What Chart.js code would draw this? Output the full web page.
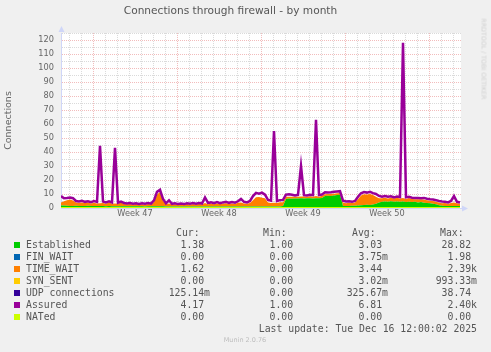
<!DOCTYPE html>
<html>
<head>
<meta charset="utf-8">
<title>Connections through firewall - by month</title>
<script src="https://cdn.jsdelivr.net/npm/chart.js@4.4.1/dist/chart.umd.min.js"></script>
<style>
  html, body { margin: 0; padding: 0; background: #f0f0f0; }
  #wrap { position: relative; width: 491px; height: 352px; overflow: hidden; }
  canvas { position: absolute; left: 0; top: 0; }
  .t { position: absolute; white-space: pre; font-family: 'DejaVu Sans Mono', monospace; font-size: 9.8px; line-height: 12px; color: #555; }
  .sq { position: absolute; width: 6px; height: 6px; }
  #rrd { position: absolute; left: 483.5px; top: 59px; transform: translate(-50%, -50%) rotate(90deg); white-space: nowrap;
         font-family: 'DejaVu Sans', sans-serif; font-size: 6.3px; color: #cfcfcf; }
  #munin { position: absolute; left: 245px; top: 340px; transform: translate(-50%, -50%); white-space: nowrap;
           font-family: 'DejaVu Sans', sans-serif; font-size: 6.5px; color: #bdbdbd; }
</style>
</head>
<body>
<div id="wrap">
  <canvas id="chart" width="491" height="352"></canvas>
  <div id="legend"></div>
  <div id="rrd">RRDTOOL / TOBI OETIKER</div>
  <div id="munin">Munin 2.0.76</div>
</div>
<script>
// samples every 6 hours, starting at the left edge of the month graph
const established = [
  1.8, 1.8, 1.6, 1.5, 1.5, 1.6, 1.5, 1.4, 1.5, 1.6,
  1.4, 1.5, 1.4, 1.4, 1.4, 1.3, 1.4, 1.3, 1.3, 1.3,
  1.3, 1.2, 1.3, 1.2, 1.2, 1.3, 1.2, 1.2, 1.1, 1.2,
  1.2, 1.2, 1.2, 1.2, 1.2, 1.1, 1.1, 1.1, 1.1, 1.0,
  1.0, 1.0, 1.1, 1.0, 1.0, 1.0, 1.1, 1.0, 1.0, 1.0,
  1.1, 1.0, 1.0, 1.1, 1.0, 1.0, 1.1, 1.0, 1.0, 1.1,
  1.0, 1.0, 1.1, 1.0, 1.0, 1.1, 1.1, 1.1, 1.0, 1.0,
  1.0, 1.0, 1.0, 1.1, 1.5, 6.5, 6.8, 6.6, 6.8, 6.7,
  6.9, 6.7, 6.9, 7.0, 6.8, 7.0, 6.9, 7.2, 8.5, 8.8,
  8.6, 9.0, 9.2, 9.5, 1.5, 1.4, 1.5, 1.6, 1.6, 1.8,
  2.0, 2.2, 2.4, 2.2, 2.5, 3.0, 4.0, 4.5, 4.6, 4.4,
  4.8, 4.5, 4.7, 4.4, 4.6, 4.3, 4.5, 4.2, 4.4, 4.0,
  4.2, 3.8, 3.6, 3.4, 3.0, 2.6, 2.0, 1.6, 1.5, 1.4,
  1.4, 1.5, 1.4, 1.4
];
const timeWait = [
  2.2, 3.0, 4.0, 4.5, 3.8, 2.4, 2.2, 2.6, 2.0, 2.4,
  1.8, 2.2, 1.9, 2.0, 2.2, 1.8, 2.6, 1.7, 2.0, 1.8,
  2.6, 1.6, 1.4, 1.7, 1.3, 1.6, 1.2, 1.5, 1.3, 1.6,
  1.4, 3.0, 8.5, 10.3, 4.0, 1.5, 2.2, 1.4, 1.6, 1.3,
  1.6, 1.3, 1.7, 1.4, 1.8, 1.5, 1.9, 1.5, 2.5, 1.6,
  2.0, 1.6, 2.2, 1.7, 2.0, 2.4, 1.8, 2.3, 1.9, 2.6,
  3.0, 2.2, 2.0, 2.6, 4.5, 6.5, 6.8, 6.2, 6.0, 3.0,
  2.6, 2.8, 2.5, 3.0, 2.6, 1.5, 1.3, 1.5, 1.2, 1.4,
  1.3, 1.5, 1.2, 1.4, 1.3, 1.5, 1.2, 1.6, 1.4, 1.2,
  1.5, 1.2, 1.4, 1.3, 2.4, 2.0, 2.2, 1.9, 2.4, 4.5,
  7.0, 7.6, 7.2, 7.8, 6.8, 5.0, 3.0, 2.5, 2.8, 2.4,
  2.6, 2.2, 2.6, 2.3, 2.5, 2.2, 2.6, 2.2, 1.8, 2.3,
  2.0, 2.2, 2.0, 1.8, 2.0, 1.8, 2.0, 1.8, 2.0, 1.6,
  2.2, 2.4, 2.0, 1.6
];
const assured = [
  8.5, 7.0, 7.2, 7.5, 7.0, 5.0, 4.6, 5.2, 4.4, 4.8,
  4.2, 4.9, 4.3, 44.5, 4.6, 4.0, 4.8, 4.0, 43.0, 3.8,
  4.6, 3.6, 3.2, 3.6, 3.0, 3.4, 2.9, 3.3, 3.0, 3.5,
  3.1, 5.5, 11.5, 13.0, 6.5, 3.3, 5.5, 3.0, 3.4, 2.8,
  3.2, 2.8, 3.4, 3.0, 3.5, 3.1, 3.6, 3.2, 7.5, 3.6,
  4.0, 3.4, 4.2, 3.5, 4.0, 4.4, 3.7, 4.3, 3.8, 4.8,
  6.5, 4.4, 4.0, 5.0, 8.5, 10.8, 10.2, 11.0, 9.5, 5.8,
  5.2, 55.0, 5.0, 5.6, 5.8, 9.6, 9.8, 9.4, 9.0, 9.4,
  30.0, 9.2, 9.0, 9.4, 9.2, 63.0, 9.2, 9.6, 11.2, 11.0,
  11.2, 11.6, 11.8, 12.0, 5.2, 4.6, 4.8, 4.4, 5.0, 8.0,
  10.5, 11.4, 11.0, 11.5, 10.6, 10.0, 8.6, 8.0, 8.6, 8.0,
  8.4, 7.6, 8.2, 7.8, 118.0, 7.6, 8.0, 7.4, 7.2, 7.2,
  7.0, 7.2, 6.6, 6.2, 6.0, 5.6, 5.0, 4.6, 4.4, 4.0,
  5.0, 8.5, 4.4, 4.0
];
const natedHours = [0, 798];
const nated = [0, 0];

// hours from the left edge: Monday 00:00 of each week, and the week numbers
const weekStarts = [64, 232, 400, 568, 736];
const weekLabels = ['Week 47', 'Week 48', 'Week 49', 'Week 50'];

// legend table
const seriesNames = ['Established', 'FIN_WAIT', 'TIME_WAIT', 'SYN_SENT', 'UDP connections', 'Assured', 'NATed'];
const seriesColors = ['#00CC00', '#0066B3', '#FF8000', '#FFCC00', '#330099', '#990099', '#CCFF00'];
const curValues = ['1.38', '0.00', '1.62', '0.00', '125.14m', '4.17', '0.00'];
const minValues = ['1.00', '0.00', '0.00', '0.00', '0.00', '1.00', '0.00'];
const avgValues = ['3.03', '3.75m', '3.44', '3.02m', '325.67m', '6.81', '0.00'];
const maxValues = ['28.82', '1.98', '2.39k', '993.33m', '38.74', '2.40k', '0.00'];

const hours = established.map((_, i) => i * 6);
const toPoints = (xs, ys) => ys.map((v, i) => ({ x: xs[i], y: v }));

const MAJOR = 'rgba(222, 79, 79, 0.38)';
const MINOR = 'rgba(150, 150, 150, 0.35)';
const NONE = 'rgba(0, 0, 0, 0)';
const AXIS = '#CFD6F8';
const FONT = '#666666';

const munin = {
    id: 'munin',
    beforeDraw(chart) {
        const { ctx, chartArea: a } = chart;
        ctx.save();
        ctx.fillStyle = '#ffffff';
        ctx.fillRect(a.left, a.top, a.right - a.left, a.bottom - a.top);
        ctx.restore();
    },
    afterDraw(chart) {
        const { ctx, chartArea: a } = chart;
        ctx.save();
        ctx.fillStyle = AXIS;
        ctx.beginPath();
        ctx.moveTo(a.left + 0.5, a.top - 7);
        ctx.lineTo(a.left + 3.5, a.top - 1);
        ctx.lineTo(a.left - 2.5, a.top - 1);
        ctx.fill();
        ctx.beginPath();
        ctx.moveTo(a.right + 7, a.bottom + 0.5);
        ctx.lineTo(a.right + 1, a.bottom + 3.5);
        ctx.lineTo(a.right + 1, a.bottom - 2.5);
        ctx.fill();
        ctx.restore();
    }
};

new Chart(document.getElementById('chart'), {
    type: 'line',
    data: {
        datasets: [
            {
                label: 'NATed', stack: 'nated',
                data: toPoints(natedHours, nated),
                borderColor: '#CCFF00', borderWidth: 2, fill: false
            },
            {
                label: 'Assured', stack: 'assured',
                data: toPoints(hours, assured),
                borderColor: '#990099', borderWidth: 2.5, fill: false
            },
            {
                label: 'Established', stack: 'conn',
                data: toPoints(hours, established),
                backgroundColor: '#00CC00', borderColor: NONE, borderWidth: 0, fill: 'origin'
            },
            {
                label: 'TIME_WAIT', stack: 'conn',
                data: toPoints(hours, timeWait),
                backgroundColor: '#FF8000', borderColor: NONE, borderWidth: 0, fill: '-1'
            }
        ]
    },
    options: {
        responsive: false,
        animation: false,
        layout: { padding: { left: 0, right: 30, top: 0, bottom: 0 } },
        elements: { point: { radius: 0 }, line: { tension: 0 } },
        plugins: {
            legend: { display: false },
            tooltip: { enabled: false },
            title: {
                display: true,
                text: 'Connections through firewall - by month',
                color: '#555555',
                font: { family: 'DejaVu Sans', size: 10.6, weight: 'normal' },
                padding: { top: 4.6, bottom: 15.7 }
            }
        },
        scales: {
            x: {
                type: 'linear',
                min: 0,
                max: 800,
                afterBuildTicks: scale => {
                    const ticks = [];
                    for (let h = 16; h < 800; h += 12) ticks.push({ value: h });
                    scale.ticks = ticks;
                },
                afterFit: scale => { scale.height = 144; },
                ticks: {
                    autoSkip: false,
                    maxRotation: 0,
                    padding: 1,
                    color: FONT,
                    font: { family: 'DejaVu Sans', size: 8.2 },
                    callback: value => {
                        const k = weekStarts.indexOf(value - 84);
                        return k >= 0 && k < weekLabels.length ? weekLabels[k] : '';
                    }
                },
                grid: {
                    drawTicks: false,
                    lineWidth: 1,
                    color: c => {
                        const v = c.tick.value;
                        if ((v - 16) % 24 !== 0) return NONE;
                        return weekStarts.includes(v) ? MAJOR : MINOR;
                    }
                },
                border: { color: AXIS, width: 1, dash: [1, 1] }
            },
            y: {
                stacked: true,
                min: 0,
                max: 125,
                afterFit: scale => { scale.width = 61; },
                ticks: {
                    stepSize: 5,
                    autoSkip: false,
                    padding: 7,
                    color: FONT,
                    font: { family: 'DejaVu Sans', size: 8.2 },
                    callback: value => (value % 10 === 0 && value <= 120) ? String(value) : ''
                },
                grid: {
                    drawTicks: false,
                    lineWidth: 1,
                    color: c => {
                        const v = c.tick.value;
                        if (v === 0) return NONE;
                        return (v % 10 === 0 && v <= 120) ? MAJOR : MINOR;
                    }
                },
                border: { color: AXIS, width: 1, dash: [1, 1] },
                title: {
                    display: true,
                    text: 'Connections',
                    color: FONT,
                    font: { family: 'DejaVu Sans', size: 9.5 },
                    padding: { top: 3.3, bottom: 0 }
                }
            }
        }
    },
    plugins: [munin]
});

// legend rows under the graph
const legend = document.getElementById('legend');
function addText(text, x, y, alignRight) {
    const d = document.createElement('div');
    d.className = 't';
    d.textContent = text;
    d.style.top = (y - 6) + 'px';
    if (alignRight) d.style.right = (491 - x) + 'px';
    else d.style.left = x + 'px';
    legend.appendChild(d);
}
const withSuffix = s => /[a-z]$/i.test(s) ? s : s + ' ';

addText('Cur:', 176, 232.5);
addText('Min:', 263, 232.5);
addText('Avg:', 352, 232.5);
addText('Max:', 440, 232.5);
seriesNames.forEach((name, i) => {
    const y = 244.5 + 12 * i;
    const sq = document.createElement('div');
    sq.className = 'sq';
    sq.style.left = '14px';
    sq.style.top = (y - 3) + 'px';
    sq.style.background = seriesColors[i];
    legend.appendChild(sq);
    addText(name, 26, y);
    addText(withSuffix(curValues[i]), 210, y, true);
    addText(withSuffix(minValues[i]), 299, y, true);
    addText(withSuffix(avgValues[i]), 388, y, true);
    addText(withSuffix(maxValues[i]), 477, y, true);
});
addText('Last update: Tue Dec 16 12:00:02 2025', 477, 328.5, true);
</script>
</body>
</html>
